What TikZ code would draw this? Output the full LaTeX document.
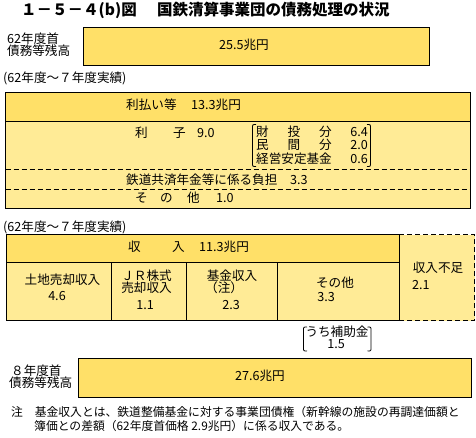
\documentclass[tikz,border=0pt]{standalone}
\usepackage{fontspec}
\setmainfont{Noto Sans CJK JP}
\definecolor{dark}{RGB}{255,224,104}
\definecolor{light}{RGB}{255,235,150}
\newcommand\fbody{\fontsize{12.6}{13}\selectfont}
\newcommand\fnote{\fontsize{11.8}{13}\selectfont}
\newcommand\ftitle{\fontsize{15.5}{16}\selectfont\bfseries}
\tikzset{
  txt/.style={inner sep=0pt, text height=0.88em, text depth=0.12em, font=\fbody},
  tight/.style={txt, text height=0.8em, text depth=0.04em},
  tw/.style={txt, anchor=west},
  boxline/.style={draw=black, line width=1pt},
  dashline/.style={draw=black, line width=1pt, dash pattern=on 5pt off 3pt},
  paren/.style={draw=black, line width=0.8pt},
}
\begin{document}
\begin{tikzpicture}[x=1pt,y=-1pt]
\useasboundingbox (0,0) rectangle (476,437);
% title
\node[tw, font=\ftitle] (ti1) at (21,12) {１－５－４(b)図};
\node[tw, font=\ftitle] (ti2) at (157,12) {国鉄清算事業団の債務処理の状況};
% box 1
\path[boxline, fill=dark] (83.5,27.5) rectangle (429.5,65.5);
\node[txt] (v1) at (244,46) {25.5兆円};
\node[tw] (l1a) at (7,40) {62年度首};
\node[tw] (l1b) at (7,52) {債務等残高};
% section 2
\node[tw] (s2) at (3,79) {(62年度～７年度実績)};
\path[fill=light] (5.5,92) rectangle (470.5,208.5);
\path[fill=dark] (5.5,92) rectangle (470.5,121);
\draw[boxline] (5.5,121) -- (470.5,121);
\draw[dashline] (5.5,169) -- (470.5,169);
\draw[dashline] (5.5,189) -- (470.5,189);
\draw[boxline] (5.5,92) rectangle (470.5,208.5);
\node[tw] (h2a) at (126,106) {利払い等};
\node[tw] (h2b) at (191,106) {13.3兆円};
\node[tw] (r1a) at (135,134) {利};
\node[tw] (r1b) at (173,134) {子};
\node[tw] (r1c) at (197,134) {9.0};
\node[tw] (b1) at (256,132.5) {\makebox[6em][s]{財\hfill 投\hfill 分}};
\node[tw] (b2) at (256,146) {\makebox[6em][s]{民\hfill 間\hfill 分}};
\node[tw] (b3) at (256,159.5) {経営安定基金};
\node[txt, anchor=east] (n1) at (368,132.5) {6.4};
\node[txt, anchor=east] (n2) at (368,146) {2.0};
\node[txt, anchor=east] (n3) at (368,159.5) {0.6};
\draw[paren] (256,124.5) .. controls (252.5,124.5) .. (252.5,128) -- (252.5,163) .. controls (252.5,166.5) .. (256,166.5);
\draw[paren] (367,124.5) .. controls (370.5,124.5) .. (370.5,128) -- (370.5,163) .. controls (370.5,166.5) .. (367,166.5);
\node[tw] (r2a) at (126,181) {鉄道共済年金等に係る負担};
\node[tw] (r2b) at (290,181) {3.3};
\node[tw] (r3a) at (135,199) {そ};
\node[tw] (r3b) at (160,199) {の};
\node[tw] (r3c) at (187,199) {他};
\node[tw] (r3d) at (216,199) {1.0};
% section 3
\node[tw] (s3) at (3,228) {(62年度～７年度実績)};
\path[fill=dark] (6.5,234.5) rectangle (399,262.5);
\path[fill=light] (6.5,262.5) rectangle (399,320.5);
\path[fill=light] (399,234.5) rectangle (474.5,320.5);
\draw[boxline] (6.5,262.5) -- (399,262.5);
\draw[boxline] (111,262.5) -- (111,320.5);
\draw[boxline] (186.5,262.5) -- (186.5,320.5);
\draw[boxline] (277.5,262.5) -- (277.5,320.5);
\draw[boxline] (6.5,234.5) rectangle (399,320.5);
\draw[dashline] (399,234.5) -- (474.5,234.5) -- (474.5,320.5) -- (399,320.5);
\node[tw] (h3a) at (128,248) {収};
\node[tw] (h3b) at (172,248) {入};
\node[tw] (h3c) at (199,248) {11.3兆円};
\node[txt] (c1a) at (62.5,281) {土地売却収入};
\node[txt] (c1b) at (57,297) {4.6};
\node[txt] (c2a) at (146.5,277) {ＪＲ株式};
\node[txt] (c2b) at (146.5,289) {売却収入};
\node[txt] (c2c) at (145,306) {1.1};
\node[txt] (c3a) at (232,277) {基金収入};
\node[tw] (c3b) at (205,289) {（注）};
\node[txt] (c3c) at (231,306) {2.3};
\node[txt] (c4a) at (335,284) {その他};
\node[txt] (c4b) at (326,298) {3.3};
\node[txt] (c5a) at (438,269) {収入不足};
\node[tw] (c5b) at (412,286) {2.1};
\node[tight] (u1) at (337,333) {うち補助金};
\node[tight] (u2) at (336,344.8) {1.5};
\draw[paren] (307,327) .. controls (303.5,327) .. (303.5,330.5) -- (303.5,347.5) .. controls (303.5,351) .. (307,351);
\draw[paren] (367.5,327) .. controls (371,327) .. (371,330.5) -- (371,347.5) .. controls (371,351) .. (367.5,351);
% box 4
\path[boxline, fill=dark] (78.5,358.5) rectangle (471.5,397.5);
\node[txt] (v4) at (260,377) {27.6兆円};
\node[tw] (l4a) at (11,372) {８年度首};
\node[tw] (l4b) at (9,384) {債務等残高};
% note
\node[tw, font=\fnote] (nt1) at (11,413) {注\hspace{1em}基金収入とは、鉄道整備基金に対する事業団債権（新幹線の施設の再調達価額と};
\node[tw, font=\fnote] (nt2) at (34,427) {簿価との差額（62年度首価格 2.9兆円）に係る収入である。};
\end{tikzpicture}
\end{document}
